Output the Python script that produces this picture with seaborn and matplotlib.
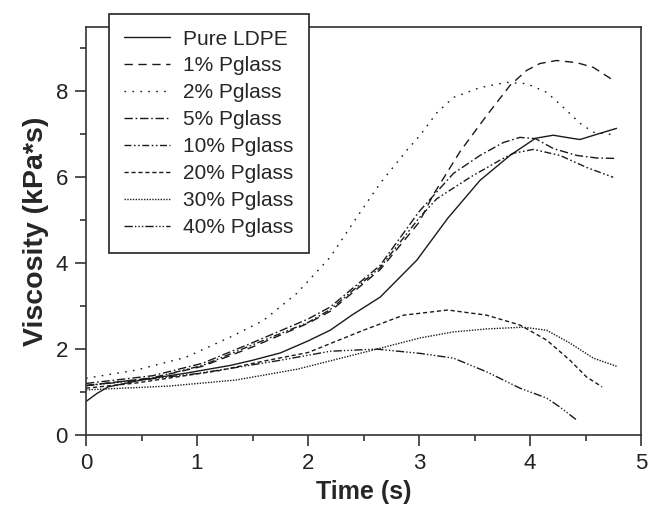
import numpy as np
import pandas as pd
import matplotlib
matplotlib.use("Agg")
import matplotlib.pyplot as plt
import seaborn as sns
from matplotlib.lines import Line2D

# ---- data ----
ldpe_x = [0, 0.1, 0.2, 0.5, 0.9, 1.3, 1.5, 1.75, 2.0, 2.2, 2.4, 2.65, 2.98, 3.26, 3.55, 3.82, 4.05, 4.21, 4.35, 4.45, 4.6, 4.78]
ldpe_y = [0.78, 0.97, 1.12, 1.28, 1.44, 1.62, 1.74, 1.91, 2.19, 2.44, 2.8, 3.21, 4.07, 5.05, 5.93, 6.51, 6.91, 6.98, 6.92, 6.88, 7.0, 7.14]

p1_x = [0, 0.6, 1.05, 1.5, 2.0, 2.2, 2.65, 3.0, 3.13, 3.37, 3.61, 3.82, 3.97, 4.09, 4.24, 4.42, 4.57, 4.75]
p1_y = [1.15, 1.33, 1.6, 2.05, 2.6, 2.88, 3.85, 4.95, 5.6, 6.6, 7.44, 8.14, 8.49, 8.65, 8.72, 8.67, 8.56, 8.26]

p2_x = [0, 0.45, 0.9, 1.3, 1.6, 1.9, 2.2, 2.44, 2.65, 2.89, 3.01, 3.16, 3.31, 3.55, 3.79, 3.97, 4.15, 4.3, 4.45, 4.57, 4.78]
p2_y = [1.32, 1.51, 1.81, 2.28, 2.67, 3.3, 4.14, 5.07, 5.86, 6.63, 6.98, 7.5, 7.86, 8.09, 8.21, 8.18, 7.98, 7.63, 7.26, 7.05, 6.98]

p5_x = [0, 0.6, 1.05, 1.5, 2.0, 2.2, 2.65, 3.0, 3.31, 3.55, 3.76, 3.91, 4.05, 4.21, 4.42, 4.6, 4.78]
p5_y = [1.2, 1.38, 1.67, 2.15, 2.7, 2.98, 3.95, 5.2, 6.09, 6.51, 6.81, 6.93, 6.9, 6.67, 6.51, 6.45, 6.44]

p10_x = [0, 0.6, 1.05, 1.5, 2.0, 2.2, 2.65, 3.0, 3.16, 3.46, 3.73, 3.85, 4.03, 4.27, 4.51, 4.75]
p10_y = [1.15, 1.33, 1.62, 2.1, 2.62, 2.92, 3.9, 5.05, 5.5, 6.0, 6.4, 6.56, 6.65, 6.51, 6.23, 6.0]

p20_x = [0, 0.45, 1.2, 1.6, 2.0, 2.5, 2.86, 3.26, 3.61, 3.91, 4.15, 4.36, 4.51, 4.65]
p20_y = [1.09, 1.21, 1.5, 1.72, 1.92, 2.44, 2.79, 2.91, 2.79, 2.56, 2.21, 1.74, 1.35, 1.12]

p30_x = [0, 0.75, 1.35, 1.9, 2.65, 3.01, 3.31, 3.61, 3.94, 4.15, 4.36, 4.57, 4.78]
p30_y = [1.05, 1.14, 1.28, 1.53, 2.02, 2.26, 2.4, 2.47, 2.51, 2.44, 2.14, 1.79, 1.6]

p40_x = [0, 0.5, 1.0, 1.3, 1.75, 2.2, 2.62, 3.01, 3.31, 3.61, 3.91, 4.15, 4.27, 4.42]
p40_y = [1.15, 1.28, 1.43, 1.55, 1.74, 1.95, 2.0, 1.9, 1.79, 1.47, 1.09, 0.86, 0.65, 0.35]

labels = ["Pure LDPE", "1% Pglass", "2% Pglass", "5% Pglass",
          "10% Pglass", "20% Pglass", "30% Pglass", "40% Pglass"]
series = [(ldpe_x, ldpe_y), (p1_x, p1_y), (p2_x, p2_y), (p5_x, p5_y),
          (p10_x, p10_y), (p20_x, p20_y), (p30_x, p30_y), (p40_x, p40_y)]

rows = []
for lab, (xs, ys) in zip(labels, series):
    for xv, yv in zip(xs, ys):
        rows.append({"Time": xv, "Viscosity": yv, "Sample": lab})
df = pd.DataFrame(rows)

dashes = {
    "Pure LDPE": "",
    "1% Pglass": (6, 4),
    "2% Pglass": (1.2, 4.5),
    "5% Pglass": (6, 2, 1.2, 2),
    "10% Pglass": (5, 1.8, 1.2, 1.8, 1.2, 1.8),
    "20% Pglass": (3, 2),
    "30% Pglass": (1, 1),
    "40% Pglass": (6, 1.5, 1, 1.5, 1, 1.5, 1, 1.5),
}

sns.set_style("ticks")
plt.rcParams["font.family"] = ["Liberation Sans", "DejaVu Sans"]

fig = plt.figure(figsize=(6.49, 5.12), dpi=100)
ax = fig.add_axes([86 / 649, 77 / 512, 555 / 649, 408 / 512])

sns.lineplot(data=df, x="Time", y="Viscosity", style="Sample", hue="Sample",
             palette=["#1a1a1a"] * 8, dashes=dashes, style_order=labels,
             hue_order=labels, estimator=None, sort=False, lw=1.0, ax=ax,
             legend=False)

ax.set_xlim(0, 5)
ax.set_ylim(0, 9.5)
ax.set_xticks([0, 1, 2, 3, 4, 5])
ax.set_xticks(np.arange(0.5, 5, 1.0), minor=True)
ax.set_yticks([0, 2, 4, 6, 8])
ax.set_yticks([1, 3, 5, 7, 9], minor=True)
ax.tick_params(axis="both", which="major", direction="out", length=8, width=1.1,
               labelsize=16, colors="#222222", pad=5)
ax.tick_params(axis="both", which="minor", direction="out", length=4, width=1.1,
               colors="#222222")
for s in ax.spines.values():
    s.set_visible(True)
    s.set_linewidth(1.2)
    s.set_color("#333333")

ax.set_xlabel("Time (s)", fontsize=18, fontweight="bold", labelpad=4)
ax.set_ylabel("Viscosity (kPa*s)", fontsize=20.5, fontweight="bold", labelpad=5)

handles = []
for lab in labels:
    d = dashes[lab]
    h = Line2D([], [], color="#1a1a1a", lw=1.0)
    if d:
        h.set_dashes(d)
    handles.append(h)
leg = ax.legend(handles, labels, loc="upper left", bbox_to_anchor=(0.041, 1.032),
                frameon=True, fancybox=False, framealpha=1, edgecolor="#222222",
                fontsize=15, handlelength=2.2, handletextpad=0.6,
                labelspacing=0.38, borderpad=0.75, borderaxespad=0)
leg.get_frame().set_linewidth(1.2)
leg.set_zorder(5)

fig.savefig("out.png", dpi=100)
